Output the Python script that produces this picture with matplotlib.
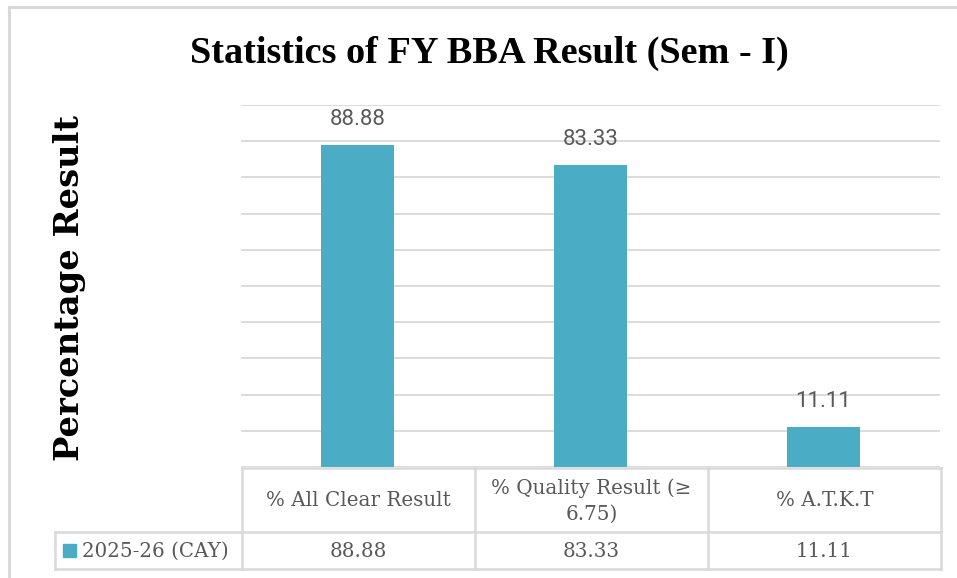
import matplotlib
matplotlib.use("Agg")
import matplotlib.pyplot as plt
from matplotlib.lines import Line2D
from matplotlib.patches import Rectangle

# ---- data ----
categories = ["% All Clear Result", "% Quality Result (≥\n6.75)", "% A.T.K.T"]
values = [88.88, 83.33, 11.11]
value_labels = ["88.88", "83.33", "11.11"]
series_name = "2025-26 (CAY)"
title = "Statistics of FY BBA Result (Sem - I)"
ylabel = "Percentage Result"

W, H = 957, 578
BAR = "#4BACC6"
GRID = "#D9D9D9"
TXT = "#595959"

fig = plt.figure(figsize=(W / 100, H / 100), dpi=100)
fig.patch.set_facecolor("white")

def fx(x):
    return x / W

def fy(y):
    return 1 - y / H

# plot area
left, right, top, bottom = 241, 940, 105, 467
ax = fig.add_axes([fx(left), fy(bottom), (right - left) / W, (bottom - top) / H])
x = list(range(len(values)))
ax.bar(x, values, width=0.313, color=BAR, zorder=3)
ax.set_xlim(-0.5, len(values) - 0.5)
ax.set_ylim(0, 100)
ax.set_yticks(range(0, 101, 10))
ax.yaxis.grid(True, color=GRID, linewidth=1.3, zorder=0)
ax.set_xticks([])
ax.tick_params(left=False, labelleft=False)
for s in ax.spines.values():
    s.set_visible(False)
for xi, v, lab in zip(x, values, value_labels):
    ax.annotate(lab, (xi, v), xytext=(0, 11), textcoords="offset points",
                ha="center", va="bottom", fontsize=16, color=TXT,
                family="Roboto")

# title and y label
fig.text(fx(489), fy(53), title, ha="center", va="center",
         fontsize=27.5, fontweight="bold", family="Liberation Serif", color="black")
fig.text(fx(70), fy(288), ylabel, ha="center", va="center", rotation=90,
         fontsize=24.3, fontweight="bold", family="DejaVu Serif", color="black")

# chart border (top & left)
fig.add_artist(Line2D([fx(9), fx(957)], [fy(6.5), fy(6.5)], color=GRID, lw=2.2))
fig.add_artist(Line2D([fx(9), fx(9)], [fy(6.5), fy(578)], color=GRID, lw=2.2))

# data table
col_edges = [242, 475, 708, 941]
leg_l = 55
y_head_top, y_mid, y_bot = 468, 532, 569
lw = 1.8

def hline(x0, x1, y):
    fig.add_artist(Line2D([fx(x0), fx(x1)], [fy(y), fy(y)], color=GRID, lw=lw))

def vline(xx, y0, y1):
    fig.add_artist(Line2D([fx(xx), fx(xx)], [fy(y0), fy(y1)], color=GRID, lw=lw))

hline(col_edges[0], col_edges[-1], y_head_top)
hline(leg_l, col_edges[-1], y_mid)
hline(leg_l, col_edges[-1], y_bot)
for ce in col_edges:
    vline(ce, y_head_top, y_bot)
vline(leg_l, y_mid, y_bot)

tfont = dict(family="DejaVu Serif", fontsize=14.3, color=TXT)
for i, cat in enumerate(categories):
    cx = (col_edges[i] + col_edges[i + 1]) / 2
    fig.text(fx(cx), fy((y_head_top + y_mid) / 2 + 1), cat, ha="center", va="center",
             linespacing=1.4, **tfont)
    fig.text(fx(cx), fy((y_mid + y_bot) / 2 + 1), value_labels[i], ha="center",
             va="center", **tfont)

fig.add_artist(Rectangle((fx(63), fy(557)), 13 / W, 13 / H, color=BAR,
                         transform=fig.transFigure))
fig.text(fx(82), fy((y_mid + y_bot) / 2 + 1), series_name, ha="left", va="center",
         **tfont)

fig.savefig("out.png", dpi=100, facecolor="white")
